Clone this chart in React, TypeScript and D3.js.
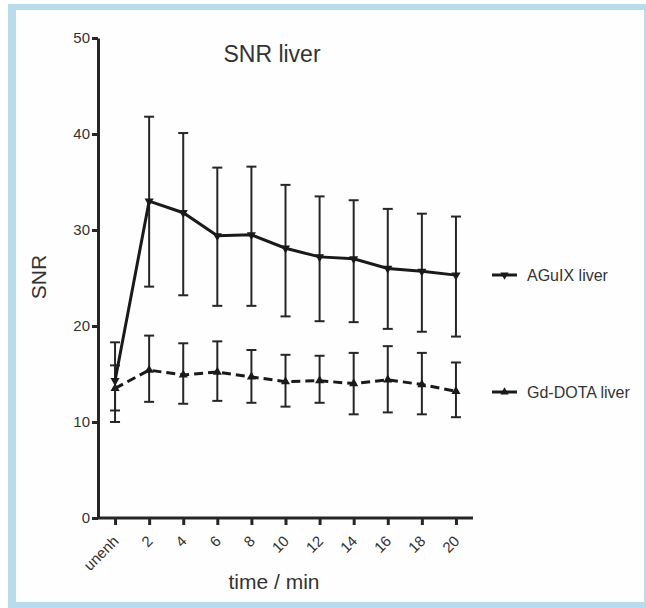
import React, { useEffect, useRef } from 'react';
import * as d3 from 'd3';

const categories = ['unenh', '2', '4', '6', '8', '10', '12', '14', '16', '18', '20'];
const yTicks = [0, 10, 20, 30, 40, 50];

const aguixMean = [14.3, 33.0, 31.8, 29.4, 29.5, 28.1, 27.2, 27.0, 26.0, 25.7, 25.3];
const aguixUpper = [18.3, 41.8, 40.1, 36.5, 36.6, 34.7, 33.5, 33.1, 32.2, 31.7, 31.4];
const aguixLower = [10.0, 24.1, 23.2, 22.1, 22.1, 21.0, 20.5, 20.4, 19.7, 19.4, 18.9];

const gdMean = [13.5, 15.4, 14.9, 15.2, 14.7, 14.2, 14.3, 14.0, 14.4, 13.9, 13.2];
const gdUpper = [15.9, 19.0, 18.2, 18.4, 17.5, 17.0, 16.9, 17.2, 17.9, 17.2, 16.2];
const gdLower = [11.2, 12.1, 11.9, 12.2, 12.0, 11.6, 12.0, 10.8, 11.0, 10.8, 10.5];

const seriesNames = ['AGuIX liver', 'Gd-DOTA liver'];

const App = () => {
  const svgRef = useRef<SVGSVGElement>(null);

  useEffect(() => {
    const svg = d3.select(svgRef.current);
    svg.selectAll('*').remove();

    const width = 646;
    const height = 608;
    const font = 'Liberation Sans, Arial, Helvetica, sans-serif';
    const ink = '#262626';

    // frame
    svg.append('rect').attr('x', 8).attr('y', 4).attr('width', width - 8).attr('height', height - 4).attr('fill', '#b9dcec');
    svg.append('rect').attr('x', 16).attr('y', 10).attr('width', 628).attr('height', 592).attr('fill', '#fefefe');

    const x = d3.scalePoint<string>().domain(categories).range([98, 473]).padding(0.5);
    const y = d3.scaleLinear().domain([0, 50]).range([518, 38]);

    // y axis
    const gy = svg.append('g')
      .attr('transform', 'translate(98,0)')
      .call(d3.axisLeft(y).tickValues(yTicks).tickSize(6).tickSizeOuter(0).tickPadding(2));
    gy.select('.domain').attr('stroke', ink).attr('stroke-width', 3);
    gy.selectAll('.tick line').attr('stroke', ink).attr('stroke-width', 3);
    gy.selectAll('.tick text').attr('font-family', font).attr('font-size', 15).attr('fill', '#333');

    // x axis
    const gx = svg.append('g')
      .attr('transform', 'translate(0,518)')
      .call(d3.axisBottom(x).tickSize(7).tickSizeOuter(0));
    gx.select('.domain').attr('stroke', ink).attr('stroke-width', 3).attr('d', 'M97,0H473');
    gx.selectAll('.tick line').attr('stroke', ink).attr('stroke-width', 3);
    gx.selectAll('.tick text')
      .attr('font-family', font)
      .attr('font-size', 15)
      .attr('fill', '#333')
      .attr('text-anchor', 'end')
      .attr('dy', null)
      .attr('y', null)
      .attr('transform', 'translate(4,24) rotate(-45)');

    const drawSeries = (mean: number[], upper: number[], lower: number[], dashed: boolean, up: boolean) => {
      const g = svg.append('g');
      categories.forEach((c, i) => {
        const cx = x(c) as number;
        g.append('line').attr('x1', cx).attr('x2', cx).attr('y1', y(upper[i])).attr('y2', y(lower[i]))
          .attr('stroke', ink).attr('stroke-width', 2);
        [upper[i], lower[i]].forEach(v => {
          g.append('line').attr('x1', cx - 5).attr('x2', cx + 5).attr('y1', y(v)).attr('y2', y(v))
            .attr('stroke', ink).attr('stroke-width', 2);
        });
      });
      const line = d3.line<number>().x((d, i) => x(categories[i]) as number).y(d => y(d));
      g.append('path').datum(mean).attr('d', line).attr('fill', 'none')
        .attr('stroke', '#1a1a1a').attr('stroke-width', 3)
        .attr('stroke-dasharray', dashed ? '9,5' : null);
      const tri = d3.symbol().type(d3.symbolTriangle).size(36);
      g.selectAll('path.m').data(mean).join('path')
        .attr('class', 'm')
        .attr('d', tri)
        .attr('fill', '#1a1a1a')
        .attr('transform', (d, i) => `translate(${x(categories[i])},${y(d)}) rotate(${up ? 0 : 180})`);
    };

    drawSeries(gdMean, gdUpper, gdLower, true, true);
    drawSeries(aguixMean, aguixUpper, aguixLower, false, false);

    // legend
    const tri = d3.symbol().type(d3.symbolTriangle).size(30);
    [275, 392].forEach((ly, i) => {
      svg.append('line').attr('x1', 492).attr('x2', 517).attr('y1', ly).attr('y2', ly)
        .attr('stroke', '#1a1a1a').attr('stroke-width', 3);
      svg.append('path').attr('d', tri).attr('fill', '#1a1a1a')
        .attr('transform', `translate(504.5,${ly}) rotate(${i === 0 ? 180 : 0})`);
      svg.append('text').attr('x', 527).attr('y', ly + 6)
        .attr('font-family', font).attr('font-size', 16).attr('fill', '#333')
        .text(seriesNames[i]);
    });

    // titles
    svg.append('text').attr('x', 272).attr('y', 62).attr('text-anchor', 'middle')
      .attr('font-family', font).attr('font-size', 23).attr('fill', '#333').text('SNR liver');
    svg.append('text').attr('x', 274).attr('y', 589).attr('text-anchor', 'middle')
      .attr('font-family', font).attr('font-size', 21).attr('fill', '#333').text('time / min');
    svg.append('text').attr('transform', 'translate(46,277) rotate(-90)').attr('text-anchor', 'middle')
      .attr('font-family', font).attr('font-size', 21).attr('fill', '#333').text('SNR');
  }, []);

  return (
    <svg ref={svgRef} width={646} height={608}
      style={{ position: 'absolute', left: 0, top: 0, display: 'block' }} />
  );
};

export default App;
